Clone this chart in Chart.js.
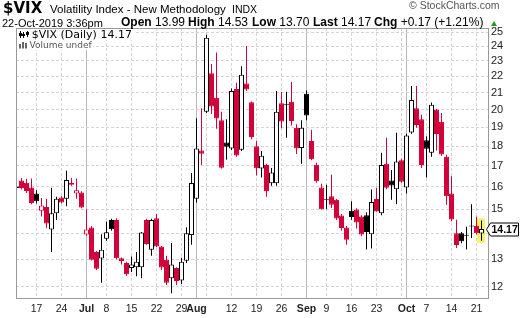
<!DOCTYPE html>
<html><head><meta charset="utf-8">
<script src="https://cdn.jsdelivr.net/npm/chart.js@4"></script>
<style>
html,body{margin:0;padding:0;background:#fff;}
#wrap{position:relative;width:520px;height:318px;overflow:hidden;background:#fff;}
canvas{position:absolute;left:0;top:0;}
.t{position:absolute;white-space:nowrap;line-height:0;font-family:"Liberation Sans",Arial,sans-serif;color:#000;font-size:11px;}
.d{font-family:"DejaVu Sans",sans-serif;}
.s{font-size:12px;}
b{font-weight:bold;}
#tri{position:absolute;left:491px;top:21px;width:0;height:0;border-left:3.5px solid transparent;border-right:3.5px solid transparent;border-bottom:5px solid #1f9a1f;}
</style></head><body>
<div id="wrap">
<canvas id="c" width="520" height="318"></canvas>
<div class="t d" style="left:3px;top:8px;font-size:15px;font-weight:bold">$VIX</div>
<div class="t" style="left:50px;top:9px;font-size:11.5px">Volatility Index - New Methodology</div>
<div class="t" style="left:232px;top:9.3px;font-size:10.5px">INDX</div>
<div class="t" style="left:409px;top:5.4px;font-size:10.5px;color:#555">© StockCharts.com</div>
<div class="t" style="left:2px;top:22.7px">22-Oct-2019 3:36pm</div>
<div class="t s" style="left:121px;top:22.4px"><b>Open</b> 13.99</div>
<div class="t s" style="left:188px;top:22.4px"><b>High</b> 14.53</div>
<div class="t s" style="left:252px;top:22.4px"><b>Low</b> 13.70</div>
<div class="t s" style="left:313px;top:22.4px"><b>Last</b> 14.17</div>
<div class="t s" style="left:374px;top:22.4px"><b>Chg</b> +0.17 (+1.21%)</div>
<div id="tri"></div>
<div class="t d" style="left:31.7px;top:34.5px;font-size:11px">$VIX (Daily) 14.17</div>
<div class="t d" style="left:29.5px;top:45.2px;font-size:9px;color:#555">Volume undef</div>
</div>
<script>
const dates = ['Jun 11','Jun 12','Jun 13','Jun 14','Jun 17','Jun 18','Jun 19','Jun 20','Jun 21','Jun 24','Jun 25','Jun 26','Jun 27','Jun 28',
'Jul 1','Jul 2','Jul 3','Jul 5','Jul 8','Jul 9','Jul 10','Jul 11','Jul 12','Jul 15','Jul 16','Jul 17','Jul 18','Jul 19','Jul 22','Jul 23','Jul 24','Jul 25','Jul 26','Jul 29','Jul 30','Jul 31',
'Aug 1','Aug 2','Aug 5','Aug 6','Aug 7','Aug 8','Aug 9','Aug 12','Aug 13','Aug 14','Aug 15','Aug 16','Aug 19','Aug 20','Aug 21','Aug 22','Aug 23','Aug 26','Aug 27','Aug 28','Aug 29','Aug 30',
'Sep 3','Sep 4','Sep 5','Sep 6','Sep 9','Sep 10','Sep 11','Sep 12','Sep 13','Sep 16','Sep 17','Sep 18','Sep 19','Sep 20','Sep 23','Sep 24','Sep 25','Sep 26','Sep 27','Sep 30',
'Oct 1','Oct 2','Oct 3','Oct 4','Oct 7','Oct 8','Oct 9','Oct 10','Oct 11','Oct 14','Oct 15','Oct 16','Oct 17','Oct 18','Oct 21','Oct 22'];

const openV = [15.95,16.30,16.20,15.98,15.70,14.94,15.10,14.15,14.83,15.52,15.47,16.10,15.70,15.75,
13.95,14.24,13.27,13.02,13.78,14.55,14.55,13.03,12.85,12.67,12.70,12.70,14.55,13.35,14.62,13.48,12.97,12.30,12.67,12.22,12.94,13.93,
15.47,17.77,19.87,22.20,20.68,19.39,18.19,17.87,21.22,17.81,21.56,20.42,17.99,16.87,17.05,16.17,16.17,20.36,20.24,20.45,18.97,17.90,
20.93,18.26,17.06,15.97,15.42,15.58,15.42,14.74,14.24,14.94,14.99,14.69,14.75,13.96,15.45,14.83,17.10,16.30,15.89,17.28,
15.98,18.71,20.07,19.44,18.30,17.65,20.00,19.31,17.45,15.70,14.00,14.00,13.93,14.32,14.31,13.99];

const highV = [16.05,16.42,16.38,16.40,15.85,15.50,15.47,15.96,15.55,15.58,16.77,16.42,16.40,15.80,
15.00,14.30,13.30,13.96,14.48,14.60,14.62,13.06,12.90,13.10,13.27,14.05,14.60,14.60,14.80,13.50,13.12,13.61,12.70,13.05,14.25,16.66,
19.50,20.07,24.81,22.80,23.56,19.87,19.44,21.25,21.60,22.65,24.02,20.47,18.26,17.74,17.10,16.90,21.10,21.03,21.05,21.65,19.17,19.39,
21.12,18.86,17.15,16.15,16.10,16.57,15.45,14.80,14.30,15.35,15.05,14.75,14.88,15.88,15.96,17.65,18.44,16.80,18.70,17.35,
18.65,21.40,21.40,19.70,18.51,20.40,20.03,19.80,17.55,16.50,14.56,14.05,14.27,15.22,14.69,14.53];

const lowV = [15.85,15.88,15.72,15.22,15.25,14.69,14.21,13.27,14.55,15.27,15.14,16.05,15.47,15.05,
13.90,12.95,12.60,12.14,13.70,14.10,12.98,12.80,12.38,12.52,12.37,12.30,13.55,13.12,13.45,12.60,12.06,11.78,12.06,12.10,12.85,13.55,
15.30,17.05,19.80,19.74,18.92,16.87,17.30,17.80,17.45,17.75,21.10,18.36,16.54,16.44,15.55,16.05,16.05,18.95,18.44,19.10,17.59,17.10,
19.39,17.28,16.20,14.99,15.00,15.06,14.55,14.10,13.55,14.56,14.20,13.88,13.36,13.40,14.90,14.75,15.90,15.42,15.22,16.20,
15.70,18.65,18.98,16.90,16.44,17.45,17.77,17.50,15.20,14.50,13.42,13.60,13.36,13.81,13.95,13.70];

const closeV = [16.02,15.95,15.82,15.28,15.35,15.17,14.40,14.83,15.47,15.30,16.32,16.20,15.85,15.08,
14.15,12.97,12.64,13.35,14.04,14.16,13.03,12.93,12.44,12.80,12.90,14.03,13.58,14.55,13.48,12.69,12.14,12.80,12.20,12.90,14.00,16.18,
17.87,17.61,24.59,20.17,19.49,16.91,17.97,21.09,17.52,22.10,21.18,18.47,16.88,17.50,15.80,16.68,19.87,19.32,20.31,19.35,17.88,18.98,
19.66,17.33,16.27,15.00,15.40,15.20,14.61,14.22,13.74,14.67,14.44,13.95,14.05,15.32,14.91,17.05,15.96,16.07,17.22,16.24,
18.56,20.56,19.12,17.04,17.86,20.28,18.64,17.57,15.58,14.57,13.54,13.68,13.90,14.28,14.00,14.17];

const tickIdx    = [4,9,14,18,23,28,33,36,38,43,48,53,58,62,67,72,77,78,82,87,92];
const tickLabels = ['17','24','Jul','8','15','22','29','Aug','','12','19','26','Sep','9','16','23','','Oct','7','14','21'];
const monthLabels = ['Jul','Aug','Sep','Oct'];
const yTicks = [12,13,14,15,16,17,18,19,20,21,22,23,24,25];

const RED = '#d3003a', BLACK = '#000000';
const FONT = '"Liberation Sans", Arial, sans-serif';
const candleColor = dates.map((d,i) => (i === 0 || closeV[i] >= closeV[i-1]) ? BLACK : RED);
const bodyFill = dates.map((d,i) => closeV[i] > openV[i] ? '#ffffff' : candleColor[i]);
const isMonthTick = v => monthLabels.includes(tickLabels[tickIdx.indexOf(v)]);

const deco = {
  id: 'deco',
  beforeDatasetsDraw(chart) {
    const {ctx, chartArea: a, scales: {x, y}} = chart;
    ctx.save();
    ctx.fillStyle = '#fff';
    ctx.fillRect(a.left + 1, a.top + 1, 118, 11);
    ctx.fillRect(a.left + 1, a.top + 12, 76, 10);
    const L = closeV.length - 1;
    const xp = x.getPixelForValue(L);
    const yh = y.getPixelForValue(highV[L]), yl = y.getPixelForValue(lowV[L]);
    ctx.fillStyle = '#f6f36a';
    ctx.fillRect(Math.floor(xp) - 4, yh - 2, 8, yl - yh + 4);
    ctx.restore();
  },
  afterDraw(chart) {
    const {ctx, chartArea: a, scales: {y}} = chart;
    ctx.save();
    ctx.strokeStyle = '#9a9a9a'; ctx.lineWidth = 1;
    ctx.beginPath();
    ctx.moveTo(a.left + 0.5, a.top); ctx.lineTo(a.left + 0.5, a.bottom + 1);
    ctx.moveTo(a.right + 0.5, a.top); ctx.lineTo(a.right + 0.5, a.bottom + 1);
    ctx.moveTo(a.left, a.top + 0.5); ctx.lineTo(a.right + 1, a.top + 0.5);
    ctx.moveTo(a.left, a.bottom + 0.5); ctx.lineTo(a.right + 1, a.bottom + 0.5);
    ctx.stroke();
    ctx.fillStyle = '#000';
    ctx.fillRect(20, 31, 1, 7); ctx.fillRect(19, 33, 3, 3);
    ctx.fillRect(23, 32, 1, 6); ctx.fillRect(22, 34, 3, 2);
    ctx.fillRect(27, 31, 1, 6); ctx.fillRect(26, 32, 3, 3);
    ctx.fillStyle = '#666';
    ctx.fillRect(19, 44, 2, 4.5); ctx.fillRect(22, 42, 2, 6.5); ctx.fillRect(25, 43, 2, 5.5);
    const L = closeV.length - 1;
    const yv = Math.round(y.getPixelForValue(closeV[L])) + 0.5;
    ctx.beginPath();
    ctx.moveTo(486.5, yv); ctx.lineTo(490.5, yv - 6.5); ctx.lineTo(518.5, yv - 6.5);
    ctx.lineTo(518.5, yv + 6.5); ctx.lineTo(490.5, yv + 6.5); ctx.closePath();
    ctx.fillStyle = '#fff'; ctx.fill();
    ctx.strokeStyle = '#000'; ctx.stroke();
    ctx.fillStyle = '#000'; ctx.font = 'bold 10.5px ' + FONT;
    ctx.textBaseline = 'middle'; ctx.textAlign = 'left';
    ctx.fillText(closeV[L].toFixed(2), 491.5, yv + 0.5);
    ctx.restore();
  }
};

new Chart(document.getElementById('c'), {
  type: 'bar',
  data: {
    labels: dates,
    datasets: [
      {
        label: 'body',
        data: dates.map((d,i) => ({x: i, y: [openV[i], closeV[i]]})),
        backgroundColor: bodyFill,
        borderColor: candleColor,
        borderWidth: 1,
        borderSkipped: false,
        barThickness: 5,
        minBarLength: 1,
        inflateAmount: 0,
        grouped: false,
        clip: 0
      },
      {
        label: 'wick',
        data: dates.map((d,i) => ({x: i, y: [lowV[i], highV[i]]})),
        backgroundColor: candleColor,
        borderWidth: 0,
        barThickness: 1,
        inflateAmount: 0,
        grouped: false,
        clip: 0
      }
    ]
  },
  options: {
    responsive: false,
    animation: false,
    devicePixelRatio: 1,
    events: [],
    layout: {padding: {left: 16, top: 28, right: 0, bottom: 0}},
    plugins: {legend: {display: false}, tooltip: {enabled: false}},
    scales: {
      x: {
        type: 'linear', min: -0.1, max: 94.3, bounds: 'data', offset: false,
        afterBuildTicks: s => { s.ticks = tickIdx.map(v => ({value: v})); },
        afterFit: s => { s.height = 20; },
        ticks: {
          autoSkip: false, maxRotation: 0, minRotation: 0, padding: 5, color: '#222',
          font: ctx => ({family: FONT, size: 10.5, weight: (ctx.tick && isMonthTick(ctx.tick.value)) ? 'bold' : 'normal'}),
          callback: (v, i) => tickLabels[i]
        },
        grid: {
          offset: false, drawTicks: false, lineWidth: 1,
          color: ctx => (ctx.tick && isMonthTick(ctx.tick.value)) ? '#b8b8b8' : '#d4d4d4'
        },
        border: {display: false, dash: ctx => (ctx.tick && !isMonthTick(ctx.tick.value)) ? [3, 2] : []}
      },
      y: {
        type: 'logarithmic', position: 'right', min: 11.62, max: 25.29, bounds: 'data',
        afterBuildTicks: s => { s.ticks = yTicks.map(v => ({value: v})); },
        afterFit: s => { s.width = 32; },
        ticks: {padding: 3, color: '#222', font: {family: FONT, size: 11}, callback: v => String(v)},
        grid: {drawTicks: false, lineWidth: 1, color: '#d4d4d4'},
        border: {display: false, dash: [3, 2]}
      }
    }
  },
  plugins: [deco]
});
</script>
</body></html>
